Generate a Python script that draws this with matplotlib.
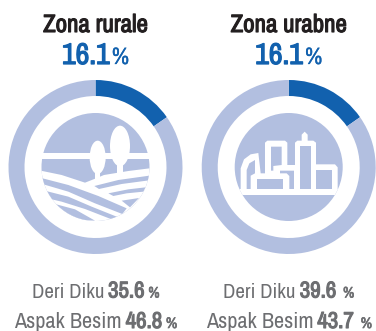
import matplotlib
matplotlib.use("Agg")
from matplotlib import pyplot as plt
from matplotlib import patheffects
from matplotlib.patches import Circle, Ellipse, Polygon, Rectangle

zones = ['Zona rurale', 'Zona urabne']
headline = ['16.1', '16.1']
ring_share = [15.3, 15.3]  # what the blue arc measures in the picture
deri_diku = ['35.6', '39.6']
aspak_besim = ['46.8', '43.7']
pct_gap = [0, 3]

LIGHT = '#b2bfe0'
BLUE = '#1261ae'
DARK = '#231f20'
GREY = '#6d6e71'
NARROW = ['Archivo Narrow', 'Roboto Condensed', 'Liberation Sans']

W, H = 376, 331
centers = [95.5, 288.7]
CY = 167

fig = plt.figure(figsize=(W / 100, H / 100), dpi=100)
ax = fig.add_axes([0, 0, 1, 1])


def runs(cx, base, parts):
    # parts are (text, size, stroke, colour, gap after), set one after the other and centred on cx
    # the narrow face has no bold cut here, so a thin stroke thickens it
    r = fig.canvas.get_renderer()
    items = []
    total = 0
    for s, size, stroke, col, gap in parts:
        t = ax.text(0, base, s, fontsize=size, color=col, family=NARROW, va='baseline', ha='left')
        w = t.get_window_extent(r).width
        if stroke:
            t.set_path_effects([patheffects.withStroke(linewidth=stroke, foreground=col)])
        items.append((t, w + gap))
        total += w + gap
    x = cx - total / 2
    for t, w in items:
        t.set_x(x)
        x += w


def shape(pts, ox, oy, col, clip=None):
    # pts are in 3x crop pixels
    p = Polygon([(ox + a / 3, oy + b / 3) for a, b in pts], closed=True, fc=col, ec='none', zorder=5)
    ax.add_patch(p)
    if clip is not None:
        p.set_clip_path(clip)
    return p


def rural_icon(cx):
    ox, oy = 35, 110
    disc = Circle((cx, CY), 54, fc=LIGHT, ec='none', zorder=4)
    ax.add_patch(disc)
    strip = Rectangle((cx - 60, 152.8), 120, 6.2, fc='white', ec='none', zorder=5)
    ax.add_patch(strip)
    # everything under the horizon band goes white, stripes come back on top
    shape([(0, 180), (22, 183), (80, 195), (150, 218), (178, 207), (207, 195), (280, 183), (360, 173),
           (360, 345), (0, 345)], ox, oy, 'white', disc)
    shape([(15, 203), (100, 225), (190, 258), (275, 295), (262, 312), (180, 280), (100, 245), (15, 220)],
          ox, oy, LIGHT, disc)
    shape([(25, 241), (100, 260), (170, 290), (250, 322), (235, 330), (150, 297), (80, 275), (25, 262)],
          ox, oy, LIGHT, disc)
    shape([(60, 282), (120, 298), (180, 332), (130, 330), (90, 315)], ox, oy, LIGHT, disc)
    shape([(178, 228), (250, 210), (350, 196), (350, 210), (260, 222), (192, 237)], ox, oy, LIGHT, disc)
    shape([(220, 250), (280, 238), (332, 232), (325, 245), (275, 250), (235, 258)], ox, oy, LIGHT, disc)
    shape([(260, 272), (312, 264), (285, 292)], ox, oy, LIGHT, disc)
    # trees
    for ex, ey, ew, eh, tx, ty in [(188, 142, 48, 100, 187, 215), (255, 108, 60, 122, 255, 198)]:
        e = Ellipse((ox + ex / 3, oy + ey / 3), ew / 3, eh / 3, fc='white', ec='none', zorder=6)
        ax.add_patch(e)
        tr = shape([(tx - 8, ey + 30), (tx + 8, ey + 30), (tx + 8, ty), (tx - 8, ty)], ox, oy, 'white')
        tr.set_zorder(6)


def urban_icon(cx):
    ox, oy = 230, 110
    disc = Circle((cx, CY), 54, fc=LIGHT, ec='none', zorder=4)
    ax.add_patch(disc)
    strip = Rectangle((cx - 60, 189), 120, 6, fc='white', ec='none', zorder=5)
    ax.add_patch(strip)
    strip.set_clip_path(disc)
    # white silhouette of the skyline
    shape([(32, 237), (32, 175), (42, 148), (62, 133), (85, 129), (92, 190), (105, 190), (105, 98),
           (112, 92), (165, 92), (172, 98), (172, 165), (195, 165), (195, 98), (202, 92), (215, 92),
           (215, 74), (224, 65), (233, 74), (233, 92), (250, 92), (258, 98), (258, 163), (315, 163),
           (323, 172), (323, 237)], ox, oy, 'white', disc)
    # windows
    shape([(50, 237), (50, 180), (58, 160), (75, 150), (75, 190), (62, 197), (62, 237)], ox, oy, LIGHT)
    shape([(80, 207), (160, 207), (160, 237), (80, 237)], ox, oy, LIGHT)
    shape([(123, 110), (155, 110), (155, 165), (130, 168), (130, 182), (123, 182)], ox, oy, LIGHT)
    shape([(150, 182), (192, 182), (192, 237), (178, 237), (178, 198), (170, 190), (150, 190)], ox, oy, LIGHT)
    shape([(210, 108), (243, 108), (243, 237), (210, 237)], ox, oy, LIGHT)
    shape([(258, 180), (306, 180), (306, 237), (258, 237)], ox, oy, LIGHT)


for i, cx in enumerate(centers):
    ax.pie([ring_share[i], 100 - ring_share[i]], colors=[BLUE, LIGHT], center=(cx, CY), radius=87,
           startangle=270, counterclock=True, wedgeprops={'width': 16, 'linewidth': 0})

rural_icon(centers[0])
urban_icon(centers[1])

ax.set_xlim(0, W)
ax.set_ylim(H, 0)
ax.set_aspect('auto')
ax.axis('off')

for i, cx in enumerate(centers):
    runs(cx, 32, [(zones[i], 18, 0.8, DARK, 0)])
    runs(cx, 64, [(headline[i], 21.5, 0.9, BLUE, 2), ('%', 17, 0.2, BLUE, 0)])
    runs(cx, 297.5, [('Deri Diku', 15, 0, GREY, 4), (deri_diku[i], 16.5, 0.8, GREY, 4 + pct_gap[i]),
                     ('%', 11, 0.5, GREY, 0)])
    runs(cx, 328, [('Aspak Besim', 16, 0, GREY, 4), (aspak_besim[i], 16.5, 0.8, GREY, 4 + pct_gap[i]),
                   ('%', 11, 0.5, GREY, 0)])

fig.savefig('out.png', dpi=100)
